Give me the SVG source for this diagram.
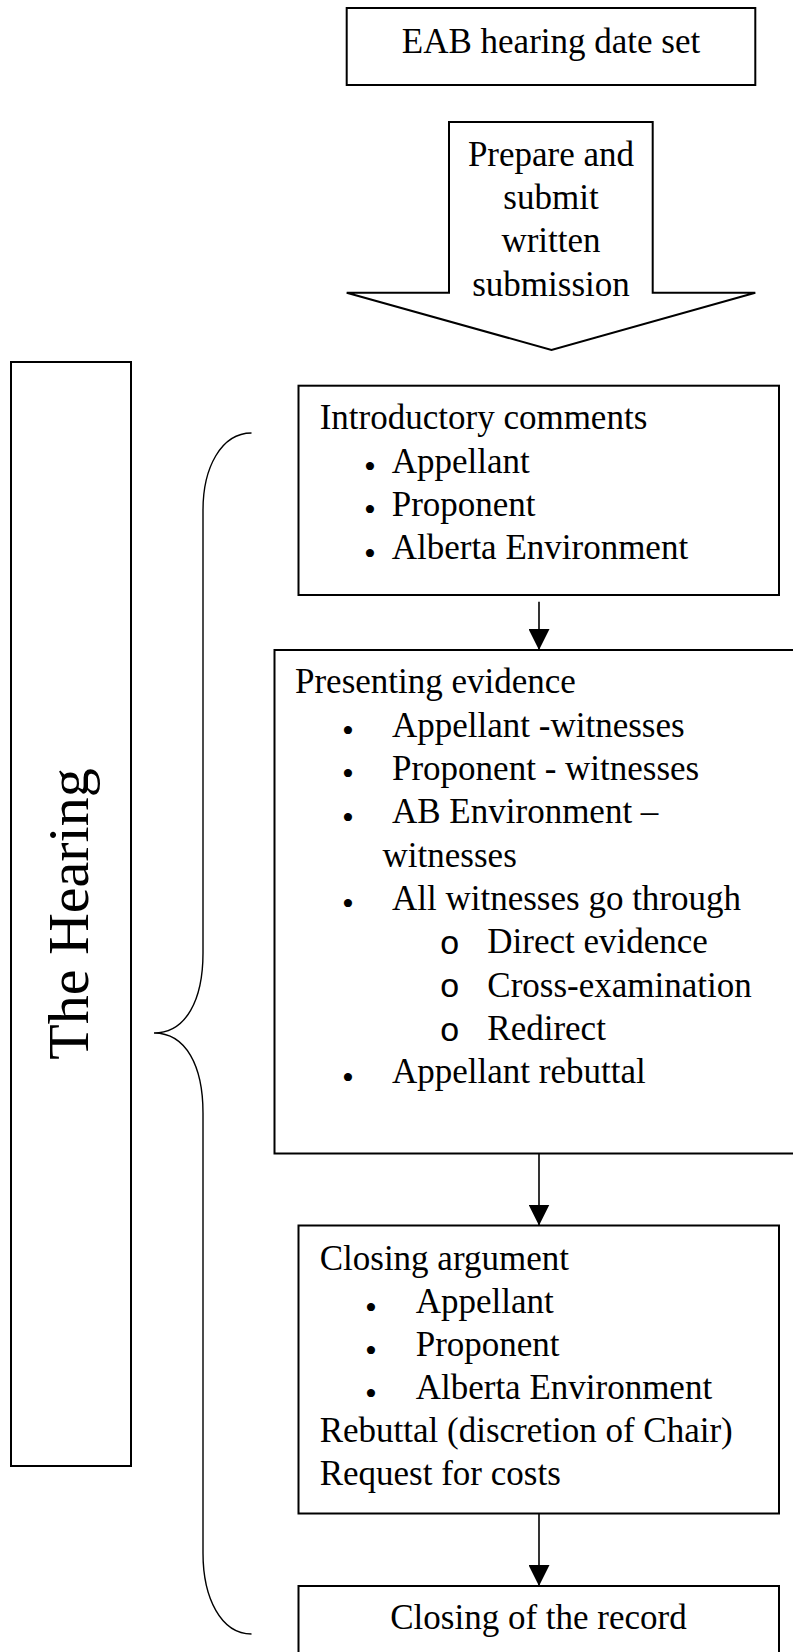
<svg xmlns="http://www.w3.org/2000/svg" width="793" height="1652" viewBox="0 0 793 1652">
  <style>
    .box { fill: #ffffff; stroke: #000000; stroke-width: 2; }
    .conn { fill: none; stroke: #000000; stroke-width: 1.6; }
    .brace { fill: none; stroke: #000000; stroke-width: 1.4; }
    text { font-family: "Liberation Serif", "Times New Roman", serif; font-size: 35px; fill: #000000; }
    .mid { text-anchor: middle; }
    .dot { font-size: 34px; text-anchor: middle; }
    .ring { font-family: "Liberation Mono", "Courier New", monospace; font-size: 34px; }
    .side { font-size: 58px; text-anchor: middle; }
  </style>
  <defs>
    <marker id="arrowhead" markerUnits="userSpaceOnUse" markerWidth="21" markerHeight="21" viewBox="0 0 21 21" refX="21" refY="10.5" orient="auto">
      <path d="M0,0 L21,10.5 L0,21 z" fill="#000000"/>
    </marker>
  </defs>

  <rect width="793" height="1652" fill="#ffffff"/>

  <!-- Side label with its bracket -->
  <g id="hearing-label">
    <rect class="box" x="11" y="362" width="120" height="1104"/>
    <text class="side" transform="translate(88,914) rotate(-90)">The Hearing</text>
  </g>
  <g id="hearing-brace">
    <path class="brace" d="M251.5,433 C221,433 203,468 203,510 L203,953 C203,1000 186,1033 154,1033 C186,1033 203,1066 203,1113 L203,1553 C203,1598 221,1634 251.5,1634"/>
  </g>

  <!-- Top step -->
  <g id="date-set">
    <rect class="box" x="346.7" y="8" width="408.6" height="77"/>
    <text class="mid" x="551" y="53">EAB hearing date set</text>
  </g>

  <!-- Block arrow -->
  <g id="written-submission">
    <polygon class="box" points="449,122 652.7,122 652.7,292.7 755.3,292.7 551.5,350 346.7,292.7 449,292.7"/>
    <text class="mid" x="551" y="165.7">Prepare and</text>
    <text class="mid" x="551" y="209">submit</text>
    <text class="mid" x="551" y="252.3">written</text>
    <text class="mid" x="551" y="295.7">submission</text>
  </g>

  <g id="introductory">
    <rect class="box" x="298.5" y="385.7" width="480.5" height="209.3"/>
    <text x="319.7" y="429.3">Introductory comments</text>
    <text class="dot" x="370" y="477.9">•</text>
    <text x="391.7" y="472.6">Appellant</text>
    <text class="dot" x="370" y="521.2">•</text>
    <text x="391.7" y="515.9">Proponent</text>
    <text class="dot" x="370" y="564.5">•</text>
    <text x="391.7" y="559.2">Alberta Environment</text>
  </g>

  <g id="evidence">
    <rect class="box" x="274.5" y="650" width="540" height="503.5"/>
    <text x="295" y="693.3">Presenting evidence</text>
    <text class="dot" x="348" y="742">•</text>
    <text x="392" y="736.7">Appellant -witnesses</text>
    <text class="dot" x="348" y="785.3">•</text>
    <text x="392" y="780">Proponent - witnesses</text>
    <text class="dot" x="348" y="828.6">•</text>
    <text x="392" y="823.3">AB Environment –</text>
    <text x="382.6" y="866.7">witnesses</text>
    <text class="dot" x="348" y="915.3">•</text>
    <text x="392" y="910">All witnesses go through</text>
    <text class="ring" x="439.5" y="954">o</text>
    <text x="487.3" y="953.3">Direct evidence</text>
    <text class="ring" x="439.5" y="997.4">o</text>
    <text x="487.3" y="996.7">Cross-examination</text>
    <text class="ring" x="439.5" y="1040.7">o</text>
    <text x="487.3" y="1040">Redirect</text>
    <text class="dot" x="348" y="1088.6">•</text>
    <text x="392" y="1083.3">Appellant rebuttal</text>
  </g>

  <g id="closing-argument">
    <rect class="box" x="298.5" y="1225.5" width="480.5" height="288"/>
    <text x="319.7" y="1270">Closing argument</text>
    <text class="dot" x="371" y="1318.6">•</text>
    <text x="415.7" y="1313.3">Appellant</text>
    <text class="dot" x="371" y="1361.6">•</text>
    <text x="415.7" y="1356.3">Proponent</text>
    <text class="dot" x="371" y="1404.6">•</text>
    <text x="415.7" y="1399.3">Alberta Environment</text>
    <text x="319.7" y="1442.3">Rebuttal (discretion of Chair)</text>
    <text x="319.7" y="1485">Request for costs</text>
  </g>

  <g id="closing-record">
    <rect class="box" x="298.5" y="1586" width="480.5" height="100"/>
    <text class="mid" x="538.5" y="1629">Closing of the record</text>
  </g>

  <g id="connectors">
    <line class="conn" x1="539" y1="601.7" x2="539" y2="650" marker-end="url(#arrowhead)"/>
    <line class="conn" x1="539" y1="1153.5" x2="539" y2="1225.5" marker-end="url(#arrowhead)"/>
    <line class="conn" x1="539" y1="1513.5" x2="539" y2="1586" marker-end="url(#arrowhead)"/>
  </g>
</svg>
